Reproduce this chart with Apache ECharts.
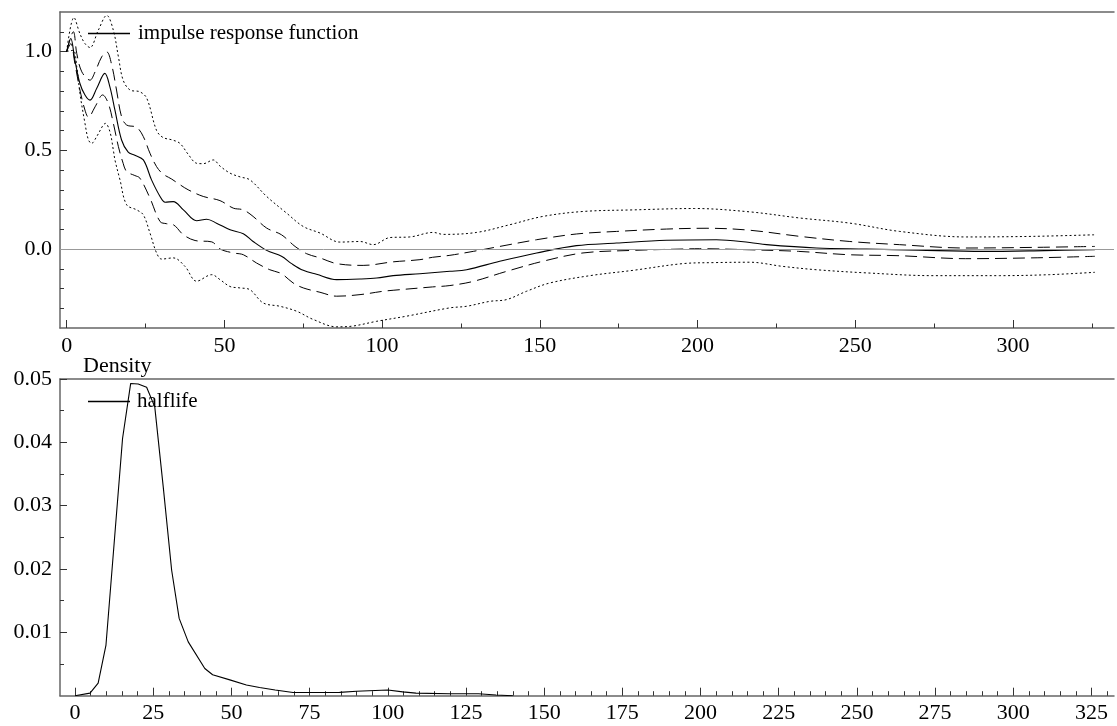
<!DOCTYPE html>
<html>
<head>
<meta charset="utf-8">
<script src="https://cdn.jsdelivr.net/npm/echarts@6/dist/echarts.min.js"></script>
<style>
html,body{margin:0;padding:0;background:#fff;}
#chart{width:1117px;height:726px;}
</style>
</head>
<body>
<div id="chart"></div>
<script>
// ---------- DATA ----------
// impulse response function (solid)
const irfT = [0,1.3,2.6,4.2,5.8,7.4,9.5,12.1,13.7,15.3,17.4,19.5,21.6,24.3,26.9,29.6,31.2,33.8,37,41.2,44.4,47.5,51.8,56,59.1,63.4,68.1,71.3,75,79.2,85.6,93,98.3,103.5,112,121.5,126.8,137.3,149,161.6,174.3,190.2,206,216.6,221.9,237.7,253.6,270,290.5,310,326];
const irfV = [1.0,1.066,0.956,0.838,0.78,0.754,0.813,0.889,0.821,0.703,0.552,0.49,0.475,0.451,0.35,0.266,0.237,0.24,0.198,0.143,0.151,0.131,0.097,0.077,0.038,-0.007,-0.037,-0.074,-0.108,-0.128,-0.155,-0.152,-0.147,-0.135,-0.125,-0.113,-0.105,-0.062,-0.02,0.017,0.030,0.044,0.047,0.033,0.022,0.005,0,-0.006,-0.012,-0.008,-0.003];
// upper inner band (dashed)
const bandUp1T = [0,2.1,3.2,4.8,7.4,9,11.1,12.7,14.3,15.8,17.4,19,22.2,24.3,26.4,28.5,30.5,33.3,35.5,38.5,43.3,48.6,52.8,56,59.1,63.4,68.1,72.4,76.1,80.3,85.6,94,103.5,112,116,121.5,128.9,137.3,149,161.6,174.3,190.2,203,216.6,232.4,248.3,264,285,306,326];
const bandUp1V = [1.0,1.1,0.99,0.897,0.855,0.897,0.973,0.998,0.93,0.805,0.67,0.628,0.616,0.569,0.485,0.417,0.38,0.354,0.33,0.30,0.266,0.245,0.207,0.198,0.165,0.106,0.072,0.013,-0.024,-0.045,-0.074,-0.083,-0.065,-0.054,-0.042,-0.032,-0.012,0.013,0.047,0.076,0.089,0.101,0.105,0.095,0.064,0.038,0.022,0.005,0.008,0.013];
// lower inner band (dashed)
const bandLo1T = [0,1.3,2.6,4.2,5.8,6.9,9,11.4,13.2,14.8,16.4,17.9,19,21.6,23.2,26.4,29.6,31.7,33.8,37,40.7,46,48.6,52.8,56,60.2,64.4,68.1,71.8,75,80.3,85.6,93,100.3,103.5,116,121.5,128.9,139.5,151,163.7,179.6,195.4,200.7,216.6,232,248,264,285,306,326];
const bandLo1V = [1.0,1.04,0.939,0.805,0.703,0.667,0.72,0.78,0.737,0.636,0.518,0.434,0.392,0.372,0.359,0.258,0.139,0.128,0.123,0.072,0.043,0.036,0.0,-0.02,-0.029,-0.071,-0.105,-0.125,-0.172,-0.197,-0.219,-0.239,-0.231,-0.214,-0.209,-0.192,-0.185,-0.164,-0.113,-0.062,-0.02,-0.007,0,0.0015,-0.004,-0.012,-0.029,-0.034,-0.049,-0.045,-0.037];
// upper outer band (dotted)
const bandUp2T = [0,2.3,4.2,5.8,7.4,10,12.7,14.8,16.4,17.9,20.1,23.2,25.4,28.5,30.5,33.5,35.9,38.5,41.2,43.3,46.5,48.6,51.8,55,58.1,63.4,69.7,75,80.3,86.6,93,97.2,102.5,108.8,116.2,119.4,130,140.5,151,163.7,179.6,199,216.6,232.4,248.3,264.1,285.3,306.4,326];
const bandUp2V = [1.0,1.172,1.09,1.04,1.02,1.107,1.183,1.107,0.973,0.855,0.805,0.796,0.763,0.60,0.565,0.552,0.535,0.48,0.434,0.432,0.451,0.42,0.384,0.365,0.35,0.266,0.182,0.114,0.081,0.035,0.038,0.022,0.058,0.061,0.084,0.074,0.084,0.123,0.165,0.19,0.198,0.205,0.188,0.157,0.131,0.089,0.061,0.064,0.072];
// lower outer band (dotted)
const bandLo2T = [0,2.1,3.2,4.2,5.8,6.9,7.9,9.5,11.6,12.3,13.7,14.8,15.3,16.9,19,22.2,24.3,26.4,28.5,30.1,33.8,37.5,41.2,46,48.6,51.8,54.9,58.1,62.3,67.6,72.9,78.2,85.6,90.8,98.3,107.8,121.5,126.8,134.2,139.5,145.8,153.2,165.9,179.6,195.4,205,216.6,227,237.7,253.6,274.7,295.8,311.6,326];
const bandLo2V = [1.0,1.006,0.922,0.788,0.636,0.552,0.535,0.569,0.628,0.636,0.594,0.50,0.451,0.35,0.224,0.198,0.173,0.081,-0.02,-0.051,-0.045,-0.088,-0.163,-0.13,-0.155,-0.19,-0.197,-0.206,-0.273,-0.29,-0.315,-0.357,-0.394,-0.39,-0.366,-0.34,-0.298,-0.29,-0.265,-0.256,-0.214,-0.172,-0.135,-0.108,-0.074,-0.069,-0.067,-0.088,-0.105,-0.121,-0.135,-0.135,-0.13,-0.118];
// half-life density
const densT = [0,4.8,7.4,9.9,12.5,15.2,17.8,20.2,22.9,25.5,28.2,30.9,33.3,36.2,41.5,44,49.5,54.8,59,64,69.7,75,84.6,90,100,104.8,109,119.7,129,134.6,140];
const densV = [0,0.0004,0.002,0.008,0.024,0.0406,0.0493,0.0492,0.0487,0.0456,0.033,0.0198,0.0122,0.0085,0.0043,0.0033,0.0025,0.0017,0.0013,0.0009,0.0005,0.0005,0.00053,0.0007,0.0009,0.0006,0.0004,0.0003,0.0003,0.0001,0];

// tick values
const topXTicks = [0,50,100,150,200,250,300];
const topXMinor = [25,75,125,175,225,275,325];
const topYTicks = [0,0.5,1.0];
const topYMinor = [-0.3,-0.2,-0.1,0.1,0.2,0.3,0.4,0.6,0.7,0.8,0.9,1.1];
const botXTicks = [0,25,50,75,100,125,150,175,200,225,250,275,300,325];
const botXMinor = [5,10,15,20,30,35,40,45,55,60,65,70,80,85,90,95,105,110,115,120,130,135,140,145,155,160,165,170,180,185,190,195,205,210,215,220,230,235,240,245,255,260,265,270,280,285,290,295,305,310,315,320,330];
const botYTicks = [0.01,0.02,0.03,0.04,0.05];
const botYMinor = [0.005,0.015,0.025,0.035,0.045];

// ---------- CHART ----------
const pairs = (t, v) => t.map((x, i) => [x, v[i]]);
const FONT = '"Liberation Serif", "DejaVu Serif", serif';
const AX = '#666';
const TK = '#333';

function xMajor(grid, min, max, ticks) {
  return {
    type: 'value', gridIndex: grid, min: min, max: max, position: 'bottom',
    axisLine: {show: true, onZero: false, lineStyle: {color: AX, width: 1.5}},
    axisTick: {show: true, inside: true, length: 8, customValues: ticks, lineStyle: {color: TK, width: 1}},
    axisLabel: {show: true, customValues: ticks, margin: 7, color: '#000', fontFamily: FONT, fontSize: 22},
    splitLine: {show: false}
  };
}
function xMinor(grid, min, max, ticks) {
  return {
    type: 'value', gridIndex: grid, min: min, max: max, position: 'bottom',
    axisLine: {show: false, onZero: false},
    axisTick: {show: true, inside: true, length: 4.5, customValues: ticks, lineStyle: {color: TK, width: 1}},
    axisLabel: {show: false},
    splitLine: {show: false}
  };
}
function xTop(grid, min, max) {
  return {
    type: 'value', gridIndex: grid, min: min, max: max, position: 'top',
    axisLine: {show: true, onZero: false, lineStyle: {color: AX, width: 1.5}},
    axisTick: {show: false}, axisLabel: {show: false}, splitLine: {show: false}
  };
}
function yMajor(grid, min, max, ticks, dec) {
  return {
    type: 'value', gridIndex: grid, min: min, max: max, position: 'left',
    axisLine: {show: true, onZero: false, lineStyle: {color: AX, width: 1.5}},
    axisTick: {show: true, inside: true, length: 7, customValues: ticks, lineStyle: {color: TK, width: 1}},
    axisLabel: {show: true, customValues: ticks, margin: 8, color: '#000', fontFamily: FONT, fontSize: 22,
      formatter: v => Number(v).toFixed(dec)},
    splitLine: {show: false}
  };
}
function yMinor(grid, min, max, ticks) {
  return {
    type: 'value', gridIndex: grid, min: min, max: max, position: 'left',
    axisLine: {show: false, onZero: false},
    axisTick: {show: true, inside: true, length: 4, customValues: ticks, lineStyle: {color: TK, width: 1}},
    axisLabel: {show: false}, splitLine: {show: false}
  };
}

const topMin = -2.12, topMax = 332.05;
const botMin = -4.8, botMax = 332.2;

function band(name, t, v, dash) {
  return {
    name: name, type: 'line', xAxisIndex: 0, yAxisIndex: 0, data: pairs(t, v),
    symbol: 'none', smooth: 0.35, clip: true,
    lineStyle: {color: '#000', width: 1, type: dash}, silent: true
  };
}

const option = {
  animation: false,
  backgroundColor: '#fff',
  grid: [
    {left: 60, top: 12, width: 1054, height: 316, containLabel: false},
    {left: 60, top: 379, width: 1054, height: 316.7, containLabel: false}
  ],
  xAxis: [
    xMajor(0, topMin, topMax, topXTicks),
    xMinor(0, topMin, topMax, topXMinor),
    xTop(0, topMin, topMax),
    xMajor(1, botMin, botMax, botXTicks),
    xMinor(1, botMin, botMax, botXMinor),
    xTop(1, botMin, botMax)
  ],
  yAxis: [
    yMajor(0, -0.4, 1.2, topYTicks, 1),
    yMinor(0, -0.4, 1.2, topYMinor),
    yMajor(1, 0, 0.05, botYTicks, 2),
    yMinor(1, 0, 0.05, botYMinor)
  ],
  legend: [
    {
      data: [{name: 'impulse response function', icon: 'rect', itemStyle: {color: '#000', borderWidth: 0}}],
      left: 83, top: 18, orient: 'horizontal',
      itemWidth: 42, itemHeight: 1.3, itemGap: 10, selectedMode: false,
      textStyle: {color: '#000', fontFamily: FONT, fontSize: 21, padding: [0, 0, 0, 3]}
    },
    {
      data: [{name: 'halflife', icon: 'rect', itemStyle: {color: '#000', borderWidth: 0}}],
      left: 83, top: 386, orient: 'horizontal',
      itemWidth: 42, itemHeight: 1.3, itemGap: 10, selectedMode: false,
      textStyle: {color: '#000', fontFamily: FONT, fontSize: 21, padding: [0, 0, 0, 2]}
    }
  ],
  graphic: [
    {type: 'text', left: 83, top: 355, silent: true,
     style: {text: 'Density', fill: '#000', font: '22px ' + FONT}}
  ],
  series: [
    band('up2', bandUp2T, bandUp2V, [2, 2.5]),
    band('lo2', bandLo2T, bandLo2V, [2, 2.5]),
    band('up1', bandUp1T, bandUp1V, [12, 6]),
    band('lo1', bandLo1T, bandLo1V, [12, 6]),
    {
      name: 'impulse response function', type: 'line', xAxisIndex: 0, yAxisIndex: 0,
      data: pairs(irfT, irfV), symbol: 'none', smooth: 0.35,
      lineStyle: {color: '#000', width: 1.1}, itemStyle: {color: '#000'},
      markLine: {
        silent: true, symbol: 'none', label: {show: false},
        lineStyle: {color: '#999', width: 1, type: 'solid'},
        data: [{yAxis: 0}]
      }
    },
    {
      name: 'halflife', type: 'line', xAxisIndex: 3, yAxisIndex: 2,
      data: pairs(densT, densV), symbol: 'none', smooth: false,
      lineStyle: {color: '#000', width: 1.1}, itemStyle: {color: '#000'}
    }
  ]
};

const chart = echarts.init(document.getElementById('chart'), null, {renderer: 'canvas'});
chart.setOption(option);
</script>
</body>
</html>
